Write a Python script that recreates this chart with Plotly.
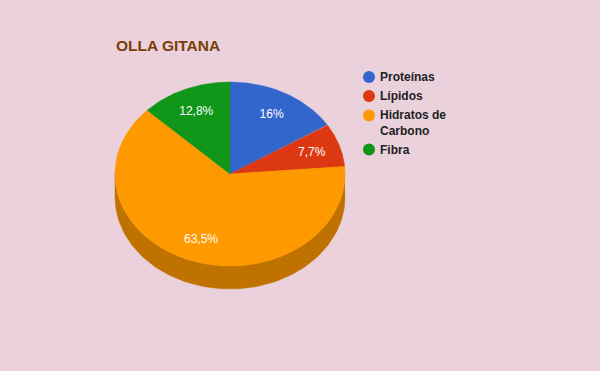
import numpy as np
import plotly.graph_objects as go

categories = ["Proteínas", "Lípidos", "Hidratos de Carbono", "Fibra"]
values = [16.0, 7.7, 63.5, 12.8]
labels = ["16%", "7,7%", "63,5%", "12,8%"]
legend_labels = ["Proteínas", "Lípidos", "Hidratos de<br>Carbono", "Fibra"]
colors = ["#3366CC", "#DC3912", "#FF9900", "#109618"]

W, H = 600, 371
CX, CY, RX, RY, DEPTH = 230, 174, 115, 92, 23
BG = "#EAD1DC"
FONT = "Arial, Liberation Sans, sans-serif"


def darken(hexc, f=0.75):
    r, g, b = int(hexc[1:3], 16), int(hexc[3:5], 16), int(hexc[5:7], 16)
    return "rgb(%d,%d,%d)" % (r * f, g * f, b * f)


def pt(t, dy=0.0):
    # t: angle in degrees, clockwise from 12 o'clock (parametric)
    r = np.radians(t)
    return CX + RX * np.sin(r), CY - RY * np.cos(r) + dy


fig = go.Figure()
total = sum(values)
starts = np.cumsum([0] + values[:-1]) / total * 360
ends = np.cumsum(values) / total * 360

# side faces (front half: 90..270 deg)
for s, e, c in zip(starts, ends, colors):
    a, b = max(s, 90), min(e, 270)
    if b <= a:
        continue
    ts = np.linspace(a, b, 120)
    xs_top, ys_top = pt(ts)
    xs_bot, ys_bot = pt(ts[::-1], DEPTH)
    fig.add_trace(go.Scatter(
        x=np.concatenate([xs_top, xs_bot]), y=np.concatenate([ys_top, ys_bot]),
        fill="toself", fillcolor=darken(c), mode="lines", line=dict(width=0.5, color=darken(c)),
        hoverinfo="skip", showlegend=False))

# top faces
for s, e, c, name in zip(starts, ends, colors, categories):
    ts = np.linspace(s, e, 200)
    xs, ys = pt(ts)
    fig.add_trace(go.Scatter(
        x=np.concatenate([[CX], xs, [CX]]), y=np.concatenate([[CY], ys, [CY]]),
        fill="toself", fillcolor=c, mode="lines", line=dict(width=0.5, color=c),
        name=name, hoverinfo="name", showlegend=False))

# slice labels
mids = (starts + ends) / 2
lx, ly = [], []
for m in mids:
    r = np.radians(m)
    lx.append(CX + 0.75 * RX * np.sin(r))
    ly.append(CY - 0.75 * RY * np.cos(r) + 1)
fig.add_trace(go.Scatter(x=lx, y=ly, mode="text", text=labels,
                         textfont=dict(color="white", size=12, family=FONT),
                         hoverinfo="skip", showlegend=False))

# legend
leg_marker_y = [77, 96, 115.5, 149.5]
leg_text_y = [77.5, 96.5, 124, 150.5]
fig.add_trace(go.Scatter(x=[369] * 4, y=leg_marker_y, mode="markers",
                         marker=dict(size=12, color=colors, line=dict(width=0)),
                         hoverinfo="skip", showlegend=False))
fig.add_trace(go.Scatter(x=[380] * 4, y=leg_text_y, mode="text", text=legend_labels,
                         textposition="middle right",
                         textfont=dict(color="#222222", size=12, family=FONT, weight="bold"),
                         hoverinfo="skip", showlegend=False))

fig.add_annotation(x=114, y=45, xref="x", yref="y", text="<b>OLLA GITANA</b>",
                   showarrow=False, xanchor="left", yanchor="middle",
                   font=dict(size=15.5, color="#783F04", family=FONT))

fig.update_layout(
    width=W, height=H, margin=dict(l=0, r=0, t=0, b=0),
    paper_bgcolor=BG, plot_bgcolor=BG,
    xaxis=dict(range=[0, W], visible=False, fixedrange=True),
    yaxis=dict(range=[H, 0], visible=False, fixedrange=True),
    showlegend=False,
)
fig.write_html("out.html", config={"displayModeBar": False},
               post_script="document.body.style.margin='0';document.body.style.overflow='hidden';")
